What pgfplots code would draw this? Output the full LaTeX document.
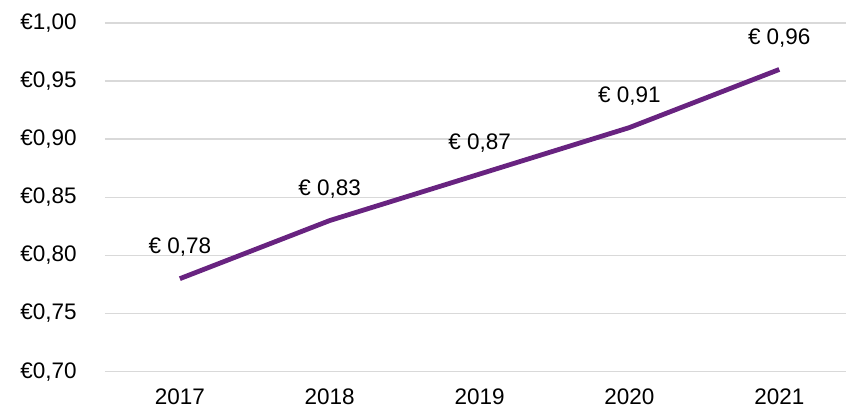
\documentclass[border=0pt]{standalone}
\usepackage{fontspec}
\setmainfont{Liberation Sans}
\usepackage{pgfplots}
\pgfplotsset{compat=1.18}
\definecolor{linepurple}{RGB}{104,35,128}
\definecolor{gridgray}{RGB}{217,217,217}
\begin{document}
\fontsize{22.5}{27}\selectfont
\begin{tikzpicture}
\begin{axis}[
  scale only axis,
  width=742pt, height=349pt,
  xmin=-0.5, xmax=4.447,
  ymin=0.70, ymax=1.00,
  axis line style={draw=none},
  major tick length=0pt,
  xtick={0,1,2,3,4},
  xticklabels={2017,2018,2019,2020,2021},
  ytick={0.70,0.75,0.80,0.85,0.90,0.95,1.00},
  yticklabels={{€0,70},{€0,75},{€0,80},{€0,85},{€0,90},{€0,95},{€1,00}},
  ymajorgrids,
  grid style={gridgray, line width=1.5pt},
  xticklabel style={anchor=north, inner sep=0pt, yshift=-17pt, font=\fontsize{22.5}{27}\selectfont},
  yticklabel style={anchor=east, inner sep=0pt, xshift=-28pt, font=\fontsize{22.5}{27}\selectfont},
  nodes near coords,
  point meta=explicit symbolic,
  every node near coord/.append style={anchor=base, inner sep=0pt, yshift=25pt, font=\fontsize{22.5}{27}\selectfont, text=black},
  clip=false,
]
\addplot[linepurple, line width=4.8pt, line join=round] coordinates {
  (0,0.78) [€ 0,78]
  (1,0.83) [€ 0,83]
  (2,0.87) [€ 0,87]
  (3,0.91) [€ 0,91]
  (4,0.96) [€ 0,96]
};
\end{axis}
\path ([xshift=-105pt,yshift=-39pt]current axis.south west) rectangle ([yshift=23pt]current axis.north east);
\end{tikzpicture}
\end{document}
